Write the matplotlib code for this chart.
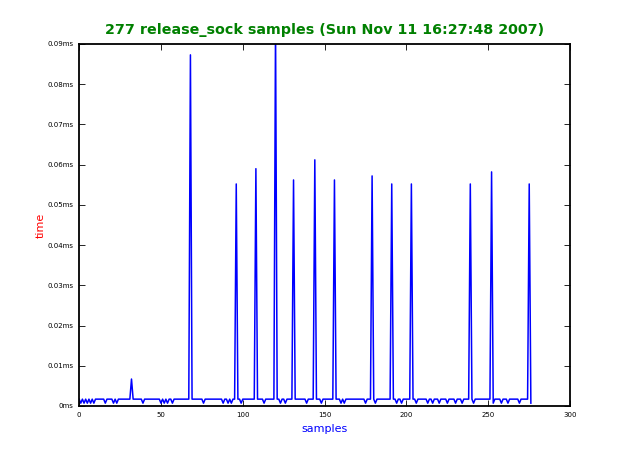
# release_sock latency trace, one point per sample
import matplotlib
matplotlib.use("Agg")
import matplotlib.pyplot as plt
from matplotlib.ticker import FuncFormatter

title = "277 release_sock samples (Sun Nov 11 16:27:48 2007)"

# sample times in microseconds (277 samples)
times_us = [
    1.7, 0.7, 1.7, 0.7, 1.7, 0.7, 1.7, 0.7, 1.7, 0.7, 1.7, 1.7, 1.7, 1.7, 1.7, 1.7, 0.7, 1.7, 1.7, 1.7,
    1.7, 0.7, 1.7, 0.7, 1.7, 1.7, 1.7, 1.7, 1.7, 1.7, 1.7, 1.7, 6.7, 1.7, 1.7, 1.7, 1.7, 1.7, 1.7, 0.7,
    1.7, 1.7, 1.7, 1.7, 1.7, 1.7, 1.7, 1.7, 1.7, 1.7, 0.7, 1.7, 0.7, 1.7, 0.7, 1.7, 1.7, 0.7, 1.7, 1.7,
    1.7, 1.7, 1.7, 1.7, 1.7, 1.7, 1.7, 1.7, 87.3, 1.7, 1.7, 1.7, 1.7, 1.7, 1.7, 1.7, 0.7, 1.7, 1.7, 1.7,
    1.7, 1.7, 1.7, 1.7, 1.7, 1.7, 1.7, 1.7, 0.7, 1.7, 1.7, 0.7, 1.7, 0.7, 1.7, 1.7, 55.2, 1.7, 1.7, 0.7,
    1.7, 1.7, 1.7, 1.7, 1.7, 1.7, 1.7, 1.7, 59.0, 1.7, 1.7, 1.7, 1.7, 0.7, 1.7, 1.7, 1.7, 1.7, 1.7, 1.7,
    95.0, 1.7, 1.7, 0.7, 1.7, 1.7, 0.7, 1.7, 1.7, 1.7, 1.7, 56.2, 1.7, 1.7, 1.7, 1.7, 1.7, 1.7, 1.7, 0.7,
    1.7, 1.7, 1.7, 1.7, 61.2, 1.7, 1.7, 1.7, 0.7, 1.7, 1.7, 1.7, 1.7, 1.7, 1.7, 1.7, 56.2, 1.7, 1.7, 1.7,
    0.7, 1.7, 0.7, 1.7, 1.7, 1.7, 1.7, 1.7, 1.7, 1.7, 1.7, 1.7, 1.7, 1.7, 1.7, 0.7, 1.7, 1.7, 1.7, 57.2,
    1.7, 0.7, 1.7, 1.7, 1.7, 1.7, 1.7, 1.7, 1.7, 1.7, 1.7, 55.2, 1.7, 1.7, 0.7, 1.7, 1.7, 0.7, 1.7, 1.7,
    1.7, 1.7, 1.7, 55.2, 1.7, 1.7, 0.7, 1.7, 1.7, 1.7, 1.7, 1.7, 1.7, 0.7, 1.7, 1.7, 0.7, 1.7, 1.7, 1.7,
    0.7, 1.7, 1.7, 1.7, 1.7, 0.7, 1.7, 1.7, 1.7, 1.7, 0.7, 1.7, 1.7, 1.7, 0.7, 1.7, 1.7, 1.7, 1.7, 55.2,
    1.7, 0.7, 1.7, 1.7, 1.7, 1.7, 1.7, 1.7, 1.7, 1.7, 1.7, 1.7, 58.2, 0.7, 1.7, 1.7, 1.7, 1.7, 0.7, 1.7,
    1.7, 1.7, 0.7, 1.7, 1.7, 1.7, 1.7, 1.7, 1.7, 0.7, 1.7, 1.7, 1.7, 1.7, 1.7, 55.2, 0.7,
]
x_ticks = [0, 50, 100, 150, 200, 250, 300]
y_ticks = [0, 0.01, 0.02, 0.03, 0.04, 0.05, 0.06, 0.07, 0.08, 0.09]

times_ms = [t / 1000.0 for t in times_us]
samples = list(range(len(times_ms)))

fig = plt.figure(figsize=(6.33, 4.53), dpi=100, facecolor="white")
ax = fig.add_axes([0.125, 0.1038, 0.7757, 0.7991])

ax.plot(samples, times_ms, color="#0000ff", linewidth=1.1)

ax.set_xlim(0, 300)
ax.set_ylim(0, 0.09)
ax.set_xticks(x_ticks)
ax.set_yticks(y_ticks)
ax.yaxis.set_major_formatter(FuncFormatter(lambda v, pos: "%gms" % round(v, 4)))

ax.tick_params(direction="in", length=4, width=0.6, labelsize=5,
               top=True, right=True, pad=4)
for s in ax.spines.values():
    s.set_linewidth(1.3)

ax.set_title(title, color="green", fontweight="bold", fontsize=10.3, pad=7)
ax.set_xlabel("samples", color="blue", fontsize=8, labelpad=4.5)
ax.set_ylabel("time", color="red", fontsize=8, labelpad=1)

plt.savefig("out.png", dpi=100, facecolor="white")
